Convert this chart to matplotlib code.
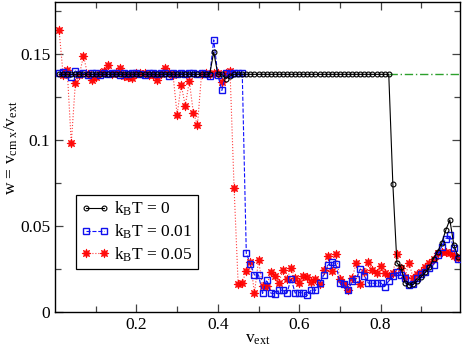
import numpy as np
import matplotlib
matplotlib.use("Agg")
import matplotlib.pyplot as plt
from matplotlib.ticker import FixedLocator, FixedFormatter

plt.rcParams['font.family'] = ['Liberation Serif', 'DejaVu Serif']
plt.rcParams['mathtext.fontset'] = 'custom'
plt.rcParams['mathtext.rm'] = 'Liberation Serif'
plt.rcParams['mathtext.it'] = 'Liberation Serif:italic'

v_ext = [round(0.01 * i, 2) for i in range(1, 100)]

w_T0 = [
    0.138, 0.138, 0.138, 0.138, 0.138, 0.138, 0.138, 0.138, 0.138, 0.138,
    0.138, 0.138, 0.138, 0.138, 0.138, 0.138, 0.138, 0.138, 0.138, 0.138,
    0.138, 0.138, 0.138, 0.138, 0.138, 0.138, 0.138, 0.138, 0.138, 0.138,
    0.138, 0.138, 0.138, 0.138, 0.138, 0.138, 0.138, 0.138, 0.151, 0.138,
    0.138, 0.1355, 0.137, 0.138, 0.138, 0.138, 0.138, 0.138, 0.138, 0.138,
    0.138, 0.138, 0.138, 0.138, 0.138, 0.138, 0.138, 0.138, 0.138, 0.138,
    0.138, 0.138, 0.138, 0.138, 0.138, 0.138, 0.138, 0.138, 0.138, 0.138,
    0.138, 0.138, 0.138, 0.138, 0.138, 0.138, 0.138, 0.138, 0.138, 0.138,
    0.138, 0.138, 0.0744, 0.0285, 0.026, 0.017, 0.0157, 0.016, 0.018, 0.0205,
    0.023, 0.026, 0.031, 0.035, 0.040, 0.0475, 0.0535, 0.039, 0.032,
]

w_T001 = [
    0.1385, 0.1395, 0.138, 0.1365, 0.140, 0.138, 0.1385, 0.1375, 0.139, 0.1385,
    0.1375, 0.139, 0.138, 0.1385, 0.139, 0.1375, 0.1385, 0.138, 0.139, 0.1385,
    0.138, 0.1375, 0.139, 0.1385, 0.138, 0.1385, 0.139, 0.137, 0.1385, 0.138,
    0.1385, 0.138, 0.1385, 0.139, 0.138, 0.1385, 0.138, 0.137, 0.158, 0.1375,
    0.1287, 0.1385, 0.138, 0.139, 0.1385, 0.139, 0.034, 0.028, 0.0215, 0.0215,
    0.0108, 0.0186, 0.011, 0.0105, 0.0128, 0.0125, 0.011, 0.0194, 0.011, 0.0113,
    0.011, 0.0097, 0.013, 0.0125, 0.0167, 0.0213, 0.0271, 0.029, 0.0279, 0.0167,
    0.016, 0.0125, 0.0178, 0.0194, 0.025, 0.021, 0.0167, 0.0167, 0.0167, 0.017,
    0.0148, 0.018, 0.021, 0.023, 0.0215, 0.0197, 0.0157, 0.016, 0.0195, 0.022,
    0.023, 0.0255, 0.0275, 0.033, 0.038, 0.0425, 0.0445, 0.037, 0.031,
]

w_T005 = [
    0.1636, 0.1378, 0.1405, 0.098, 0.133, 0.1378, 0.1488, 0.138, 0.1349, 0.1366,
    0.139, 0.140, 0.1436, 0.138, 0.139, 0.1417, 0.137, 0.1365, 0.1357, 0.139,
    0.1385, 0.139, 0.1378, 0.1378, 0.1349, 0.138, 0.1417, 0.139, 0.1378, 0.1145,
    0.132, 0.1198, 0.134, 0.1155, 0.1087, 0.138, 0.1385, 0.138, 0.1385, 0.139,
    0.1333, 0.139, 0.140, 0.072, 0.016, 0.017, 0.024, 0.029, 0.011, 0.030,
    0.015, 0.015, 0.023, 0.021, 0.017, 0.0245, 0.019, 0.0256, 0.0195, 0.017,
    0.021, 0.0206, 0.0175, 0.019, 0.0165, 0.0245, 0.0325, 0.024, 0.0335, 0.019,
    0.016, 0.0125, 0.0195, 0.0285, 0.016, 0.023, 0.029, 0.0245, 0.0225, 0.0265,
    0.0225, 0.021, 0.0225, 0.0335, 0.0255, 0.0205, 0.0285, 0.0195, 0.022, 0.023,
    0.026, 0.0285, 0.031, 0.034, 0.035, 0.035, 0.034, 0.0325, 0.0315,
]

theory_v = [0.82, 1.0]
theory_w = [0.138, 0.138]

labels = [r'k$_\mathrm{B}$T = 0', r'k$_\mathrm{B}$T = 0.01', r'k$_\mathrm{B}$T = 0.05']

fig = plt.figure(figsize=(4.63, 3.47), dpi=100)
ax = fig.add_axes([0.1188, 0.1009, 0.8747, 0.8933])

ax.plot(theory_v, theory_w, color='#2ca02c', ls=(0, (6, 2, 1, 2)), lw=1.0, zorder=1)
ax.plot(v_ext, w_T005, color='#ff3030', ls=':', lw=0.8, marker=(8, 1, 0),
        ms=6.5, mfc='red', mec='red', mew=0.5, label=labels[2], zorder=2, alpha=0.95)
ax.plot(v_ext, w_T001, color='#1010ff', ls='--', lw=0.8, marker='s',
        ms=5, mfc='none', mec='#1010ee', mew=1.0, label=labels[1], zorder=3)
ax.plot(v_ext, w_T0, color='black', ls='-', lw=0.8, marker='o',
        ms=3.5, mfc='none', mec='black', mew=0.8, label=labels[0], zorder=4)

ax.set_xlim(0, 0.995)
ax.set_ylim(0, 0.18)

ax.xaxis.set_major_locator(FixedLocator([0.2, 0.4, 0.6, 0.8]))
ax.xaxis.set_major_formatter(FixedFormatter(['0.2', '0.4', '0.6', '0.8']))
ax.xaxis.set_minor_locator(FixedLocator([0.1, 0.3, 0.5, 0.7, 0.9]))
ax.yaxis.set_major_locator(FixedLocator([0, 0.05, 0.1, 0.15]))
ax.yaxis.set_major_formatter(FixedFormatter(['0', '0.05', '0.1', '0.15']))
ax.yaxis.set_minor_locator(FixedLocator([0.025, 0.075, 0.125, 0.175]))

ax.tick_params(which='both', direction='in', top=True, right=True, labelsize=12.5, color='#444444')
ax.tick_params(which='major', length=6, width=0.9)
ax.tick_params(which='minor', length=4, width=0.9)
for s in ax.spines.values():
    s.set_linewidth(1.0)

ax.set_xlabel(r'v$_\mathrm{ext}$', fontsize=12.5, labelpad=-1)
ax.set_ylabel(r'w = v$_{\mathrm{cm\ x}}$/v$_{\mathrm{ext}}$', fontsize=12.5)
ax.yaxis.set_label_coords(-0.087, 0.53)

handles, labs = ax.get_legend_handles_labels()
order = [2, 1, 0]
leg = ax.legend([handles[i] for i in order], [labs[i] for i in order],
                loc='upper left', bbox_to_anchor=(0.052, 0.378), fontsize=12.5,
                numpoints=2, handlelength=1.6, handletextpad=0.3,
                borderpad=0.3, labelspacing=0.25, fancybox=False,
                framealpha=1, edgecolor='black', borderaxespad=0)
leg.get_frame().set_linewidth(0.9)

fig.savefig('out.png', dpi=100)
